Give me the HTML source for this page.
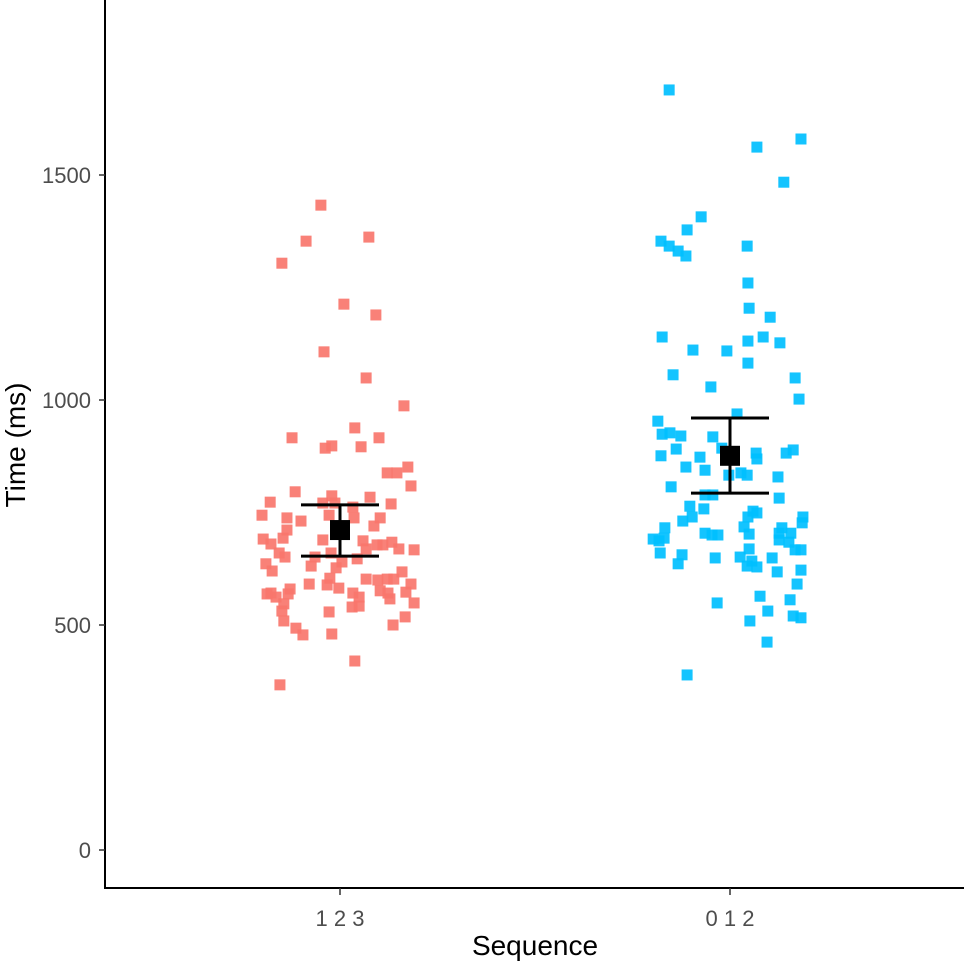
<!DOCTYPE html>
<html><head><meta charset="utf-8"><style>
html,body{margin:0;padding:0;background:#fff;}
svg text{font-family:"Liberation Sans",Arial,sans-serif;}
</style></head><body>
<svg id="chart" width="964" height="963" viewBox="0 0 964 963" xmlns="http://www.w3.org/2000/svg">
<g id="points"></g>
<g id="summary"></g>
<g id="axes"></g>
</svg>
<script>
const categories = ["1 2 3", "0 1 2"];
const colors = ["#F8766D", "#00BFFF"];
const yTicks = [0, 500, 1000, 1500];
const s1Jitter = [-0.049,-0.087,0.074,-0.149,0.010,0.092,-0.041,0.067,0.164,0.038,-0.123,0.100,-0.021,-0.038,0.054,0.174,0.121,0.146,0.182,-0.115,-0.179,-0.021,0.077,0.131,-0.044,-0.013,0.033,-0.200,-0.136,-0.136,-0.100,-0.028,0.036,0.103,0.087,-0.146,-0.197,-0.177,-0.044,0.059,0.067,0.095,0.110,0.133,0.151,0.190,-0.156,-0.141,-0.064,-0.023,0.044,0.005,-0.190,-0.174,-0.074,-0.010,-0.026,-0.033,-0.079,-0.003,0.067,0.097,0.121,0.138,0.159,0.182,-0.187,-0.177,-0.164,-0.128,-0.133,-0.144,-0.149,-0.144,-0.113,-0.095,-0.028,-0.021,0.033,0.049,0.031,0.049,0.103,0.123,0.128,0.169,0.190,0.167,0.136,0.038,-0.154];
const s1Values = [1433,1353,1362,1304,1213,1189,1107,1049,987,938,916,916,898,893,896,851,838,838,809,796,773,787,784,769,771,771,762,744,738,711,731,744,738,738,720,693,691,680,689,687,669,678,678,684,669,667,660,651,651,660,647,640,636,620,631,627,604,589,591,582,602,600,602,602,618,591,569,571,562,580,569,547,531,509,493,478,529,480,571,562,540,542,576,571,558,573,549,518,500,420,367];
const s2Jitter = [-0.156,0.182,0.069,0.138,-0.074,-0.110,-0.177,-0.156,-0.133,-0.113,0.044,0.046,0.049,0.103,-0.174,-0.095,-0.008,0.046,0.085,0.128,0.046,-0.146,-0.049,0.167,0.177,0.018,-0.185,-0.174,-0.154,-0.126,-0.044,-0.138,-0.177,-0.021,-0.077,-0.113,-0.064,0.067,0.069,0.144,0.162,-0.003,0.028,0.044,0.123,-0.151,-0.064,-0.044,-0.103,-0.067,-0.097,-0.121,0.059,0.069,0.046,0.126,-0.167,-0.197,-0.182,-0.169,-0.179,-0.123,-0.133,-0.064,-0.046,-0.031,0.036,0.049,0.049,0.026,0.056,0.044,0.069,-0.038,0.108,0.121,0.133,0.126,0.126,0.151,0.156,0.167,0.182,0.187,0.185,0.182,0.172,0.077,0.154,0.097,0.162,0.182,0.051,-0.033,0.095,-0.110];
const s2Values = [1689,1580,1562,1484,1407,1378,1353,1342,1331,1320,1342,1260,1204,1184,1140,1111,1109,1131,1140,1127,1082,1056,1029,1049,1002,969,953,924,927,920,918,891,876,893,873,851,844,882,869,882,889,833,838,833,829,807,789,789,764,758,740,731,753,749,740,782,716,691,687,693,660,656,636,704,700,700,718,702,669,651,642,631,629,649,649,618,716,704,689,684,704,667,667,740,727,622,591,564,556,531,520,516,509,549,462,389];
const means = [711, 876];
const lower = [653, 793];
const upper = [767, 960];

const NS = "http://www.w3.org/2000/svg";
const yScale = v => 850 - v * 0.45;
const xScale = (i, j) => 340 + (i + (j || 0)) * 390;
function mk(tag, attrs, parent) {
  const e = document.createElementNS(NS, tag);
  for (const k in attrs) e.setAttribute(k, attrs[k]);
  parent.appendChild(e);
  return e;
}
const gp = document.getElementById('points');
const series = [[s1Jitter, s1Values], [s2Jitter, s2Values]];
series.forEach((s, i) => {
  s[1].forEach((v, k) => {
    const r = mk('rect', {x: xScale(i, s[0][k]) - 5.5, y: yScale(v) - 5.5, width: 11, height: 11, fill: colors[i], 'fill-opacity': 0.92}, gp);
    
    
  });
});
const gs = document.getElementById('summary');
means.forEach((m, i) => {
  const cx = xScale(i, 0);
  const v = mk('line', {x1: cx, x2: cx, y1: yScale(upper[i]), y2: yScale(lower[i]), stroke: '#000', 'stroke-width': 3}, gs);
  
  
  [upper[i], lower[i]].forEach(val => {
    const c = mk('line', {x1: cx - 39, x2: cx + 39, y1: yScale(val), y2: yScale(val), stroke: '#000', 'stroke-width': 3}, gs);
    
    
  });
  const r = mk('rect', {x: cx - 10, y: yScale(m) - 10, width: 20, height: 20, fill: '#000'}, gs);
  
  
});
const ga = document.getElementById('axes');
const ya = mk('line', {x1: 105, x2: 105, y1: 0, y2: 889, stroke: '#000', 'stroke-width': 2}, ga);


const xa = mk('line', {x1: 104, x2: 964, y1: 888, y2: 888, stroke: '#000', 'stroke-width': 2}, ga);


yTicks.forEach(t => {
  const y = yScale(t);
  const tk = mk('line', {x1: 99, x2: 105, y1: y, y2: y, stroke: '#333', 'stroke-width': 1.5}, ga);
  
  
  const tx = mk('text', {x: 91, y: y + 8, 'text-anchor': 'end', 'font-size': 22, fill: '#4d4d4d'}, ga);
  tx.textContent = t;
  
  
});
categories.forEach((c, i) => {
  const x = xScale(i, 0);
  const tk = mk('line', {x1: x, x2: x, y1: 888, y2: 895, stroke: '#333', 'stroke-width': 1.5}, ga);
  
  
  const tx = mk('text', {x: x, y: 926, 'text-anchor': 'middle', 'font-size': 22, fill: '#4d4d4d'}, ga);
  tx.textContent = c;
  
  
});
const xt = mk('text', {x: 535, y: 955, 'text-anchor': 'middle', 'font-size': 28, fill: '#000'}, ga);
xt.textContent = 'Sequence';


const yt = mk('text', {x: 0, y: 0, 'text-anchor': 'middle', 'font-size': 28, fill: '#000', transform: 'translate(25,445) rotate(-90)'}, ga);
yt.textContent = 'Time (ms)';


</script>
</body></html>
